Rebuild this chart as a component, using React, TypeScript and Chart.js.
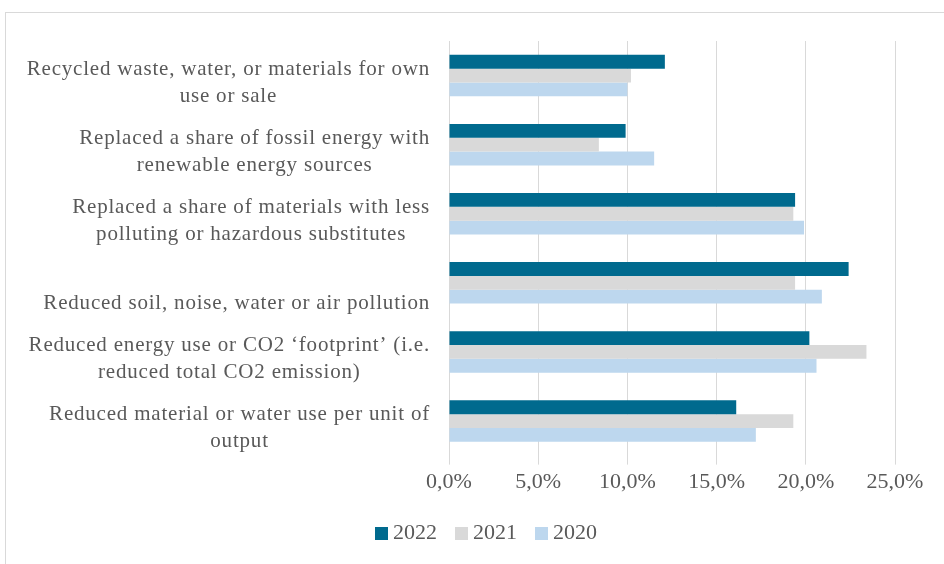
import React, { useEffect, useRef } from "react";
import { Chart, registerables } from "chart.js";

Chart.register(...registerables);

const categories: string[][] = [
  ["Recycled waste, water, or materials for own", "use or sale"],
  ["Replaced a share of fossil energy with", "renewable energy sources"],
  ["Replaced a share of materials with less", "polluting or hazardous substitutes"],
  ["", "Reduced soil, noise, water or air pollution"],
  ["Reduced energy use or CO2 \u2018footprint\u2019 (i.e.", "reduced total CO2 emission)"],
  ["Reduced material or water use per unit of", "output"],
];

const seriesNames = ["2022", "2021", "2020"];
const values2022 = [12.1, 9.9, 19.4, 22.4, 20.2, 16.1];
const values2021 = [10.2, 8.4, 19.3, 19.4, 23.4, 19.3];
const values2020 = [10.0, 11.5, 19.9, 20.9, 20.6, 17.2];
const xTicks = [0, 5, 10, 15, 20, 25];

const FONT = "'Liberation Serif', 'Times New Roman', serif";
const TEXT = "#595959";
const COLORS = ["#006a8e", "#d9d9d9", "#bdd7ee"];

const customLabels = {
  id: "customLabels",
  afterDraw(chart: any) {
    const ctx = chart.ctx as CanvasRenderingContext2D;
    const yScale = chart.scales.y;
    const area = chart.chartArea;
    ctx.save();
    ctx.font = `21px ${FONT}`;
    (ctx as any).letterSpacing = "0.8px";
    ctx.fillStyle = TEXT;
    ctx.textBaseline = "middle";
    ctx.textAlign = "center";
    const lineH = 27;
    const right = area.left - 19;
    categories.forEach((lines, i) => {
      const cy = yScale.getPixelForTick(i) + 7;
      const widths = lines.map((l) => ctx.measureText(l).width);
      const blockW = Math.max(...widths);
      const cx = right - blockW / 2;
      const startY = cy - ((lines.length - 1) * lineH) / 2;
      lines.forEach((l, j) => {
        ctx.fillText(l, cx, startY + j * lineH);
      });
    });
    ctx.restore();

    ctx.save();
    ctx.font = `22px ${FONT}`;
    ctx.textBaseline = "middle";
    ctx.textAlign = "left";
    const box = 13;
    const gap = 5;
    const spacing = 18;
    const items = chart.data.datasets.map((d: any) => ({
      label: d.label,
      color: d.backgroundColor,
      w: box + gap + ctx.measureText(d.label).width,
    }));
    const total = items.reduce((s: number, it: any) => s + it.w, 0) + spacing * (items.length - 1);
    let x = 486 - total / 2;
    const ly = 533.5;
    items.forEach((it: any) => {
      ctx.fillStyle = it.color;
      ctx.fillRect(x, ly - box / 2, box, box);
      ctx.fillStyle = TEXT;
      ctx.fillText(it.label, x + box + gap, ly);
      x += it.w + spacing;
    });
    ctx.restore();
  },
};

export default function App() {
  const ref = useRef<HTMLCanvasElement | null>(null);

  useEffect(() => {
    document.body.style.margin = "0";
    const canvas = ref.current;
    if (!canvas) return;
    const chart = new Chart(canvas, {
      type: "bar",
      data: {
        labels: categories.map((c) => c.join(" ").trim()),
        datasets: [
          { label: seriesNames[0], data: values2022, backgroundColor: COLORS[0] },
          { label: seriesNames[1], data: values2021, backgroundColor: COLORS[1] },
          { label: seriesNames[2], data: values2020, backgroundColor: COLORS[2] },
        ],
      },
      options: {
        indexAxis: "y",
        animation: false,
        responsive: false,
        maintainAspectRatio: false,
        layout: { padding: { top: 41, right: 49, left: 0, bottom: 65 } },
        datasets: {
          bar: { categoryPercentage: 0.6, barPercentage: 1 },
        },
        scales: {
          x: {
            min: xTicks[0],
            max: xTicks[xTicks.length - 1],
            afterBuildTicks: (scale: any) => {
              scale.ticks = xTicks.map((v) => ({ value: v }));
            },
            ticks: {
              color: TEXT,
              font: { family: FONT, size: 22 },
              padding: 4,
              callback: (v: any) => Number(v).toFixed(1).replace(".", ",") + "%",
            },
            grid: { color: "#d9d9d9", lineWidth: 1, drawTicks: true, tickLength: 9, tickColor: "#d9d9d9" },
            border: { display: false },
          },
          y: {
            ticks: { display: false },
            grid: { display: false },
            border: { display: false },
            afterFit: (scale: any) => {
              scale.width = 449;
            },
          },
        },
        plugins: {
          legend: { display: false },
          tooltip: { enabled: false },
        },
      },
      plugins: [customLabels],
    });
    return () => chart.destroy();
  }, []);

  return (
    <div style={{ position: "relative", width: 944, height: 564, overflow: "hidden", background: "#fff" }}>
      <div
        style={{
          position: "absolute",
          left: 5,
          top: 12,
          width: 1000,
          height: 600,
          border: "1px solid #d9d9d9",
        }}
      />
      <canvas ref={ref} width={944} height={564} style={{ position: "absolute", left: 0, top: 0 }} />
    </div>
  );
}
